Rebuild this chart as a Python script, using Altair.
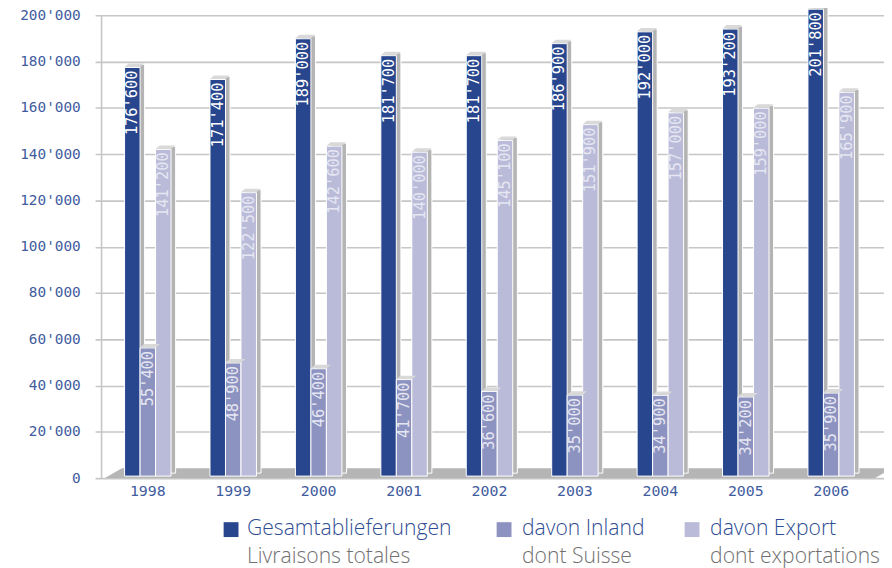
import altair as alt
import pandas as pd

years = ["1998", "1999", "2000", "2001", "2002", "2003", "2004", "2005", "2006"]
total = [176600, 171400, 189000, 181700, 181700, 186900, 192000, 193200, 201800]
inland = [55400, 48900, 46400, 41700, 36600, 35000, 34900, 34200, 35900]
export = [141200, 122500, 142600, 140000, 145100, 151900, 157000, 159000, 165900]
series = ["Gesamtablieferungen", "davon Inland", "davon Export"]
colors = ["#27468e", "#8d93c0", "#babbd9"]
second_lines = ["Livraisons totales", "dont Suisse", "dont exportations"]
ticks = list(range(0, 200001, 20000))

rows = []
for name, vals in zip(series, [total, inland, export]):
    for y, v in zip(years, vals):
        rows.append({"year": y, "series": name, "value": v,
                     "label": f"{v // 1000}'{v % 1000:03d}"})
df = pd.DataFrame(rows)

BLUE = "#3f5c9e"
DIGI = "DejaVu Sans Mono"
TEXT = "Open Sans"
W, H = 796, 467
BAR = 15.65

x = alt.X("year:N", sort=years, title=None,
          scale=alt.Scale(paddingInner=0.456, paddingOuter=0.345),
          axis=alt.Axis(domain=False, ticks=False, labelAngle=0, labelFont=DIGI,
                        labelFontSize=15, labelColor=BLUE, labelPadding=6, grid=False))
xo = alt.XOffset("series:N", sort=series,
                 scale=alt.Scale(paddingInner=0, paddingOuter=0))
y = alt.Y("value:Q", title=None,
          scale=alt.Scale(domain=[0, 200000], nice=False),
          axis=alt.Axis(values=ticks, domain=False, ticks=False, grid=True,
                        gridColor="#c6c6c6", gridWidth=1.6, labelFont=DIGI,
                        labelFontSize=14.5, labelColor=BLUE, labelPadding=15, labelOffset=0,
                        labelExpr="datum.value == 0 ? '0' : format(datum.value / 1000, 'd') + \"'000\""))
base = alt.Chart(df).encode(x=x, xOffset=xo, y=y)

vline = alt.Chart(pd.DataFrame({"a": [0]})).mark_rule(color="#c6c6c6", strokeWidth=1.6).encode(
    x=alt.value(6.5), y=alt.value(0), y2=alt.value(H))

floor = alt.Chart(pd.DataFrame({"a": [0]})).mark_point(
    shape="M-385,14 L-368,4 L410,4 L392,14 Z", size=4, filled=True,
    fill="#b5b5b5", opacity=1, clip=False).encode(
    x=alt.value(395), y=alt.value(453))

sides = []
for j, s in enumerate(series):
    sides.append(alt.Chart(df[df["series"] == s]).mark_bar(
        color="#b4b4b4", stroke="white", strokeWidth=1, width=BAR,
        xOffset=(j - 1) * BAR + 4.6, yOffset=-5, y2Offset=-2).encode(x=x, y=y))

top = base.mark_point(shape="M-7.8,0 L-3.8,-3.5 L12.2,-3.5 L7.8,0 Z", size=4, filled=True,
                      fill="#d9d9d9", opacity=1, yOffset=-2.5)
front = base.mark_bar(stroke="white", strokeWidth=1, yOffset=-2, y2Offset=-1).encode(
    color=alt.Color("series:N", sort=series, legend=None,
                    scale=alt.Scale(domain=series, range=colors)))
labels = base.mark_text(angle=270, align="right", baseline="middle", font=DIGI, fontSize=15.5,
                        yOffset=1).encode(
    text="label:N",
    color=alt.condition(alt.datum.series == series[0], alt.value("#ffffff"), alt.value("#e6e7f2")))

square_x = [137.2, 412.7, 602.4]
text_x = [153.3, 430.8, 620.6]
layers = [vline, floor] + sides + [front, top, labels]
for i, s in enumerate(series):
    one = alt.Chart(pd.DataFrame({"name": [s], "sub": [second_lines[i]]}))
    layers.append(one.mark_square(color=colors[i], size=225, opacity=1).encode(
        x=alt.value(square_x[i]), y=alt.value(519)))
    layers.append(one.mark_text(align="left", baseline="alphabetic", font=TEXT, fontSize=21.3,
                                fontWeight=300, color="#2f4d92").encode(
        text="name:N", x=alt.value(text_x[i]), y=alt.value(524.5)))
    layers.append(one.mark_text(align="left", baseline="alphabetic", font=TEXT, fontSize=21.3,
                                fontWeight=300, color="#707070").encode(
        text="sub:N", x=alt.value(text_x[i]), y=alt.value(552.8)))

chart = alt.layer(*layers).resolve_scale(color="independent").properties(
    width=W, height=H,
    autosize=alt.AutoSizeParams(type="none"),
    padding={"left": 87.9, "top": 4.8, "right": 0.1, "bottom": 94},
).configure_view(stroke=None)

chart.save("out.html", embed_options={"renderer": "svg", "actions": False})
